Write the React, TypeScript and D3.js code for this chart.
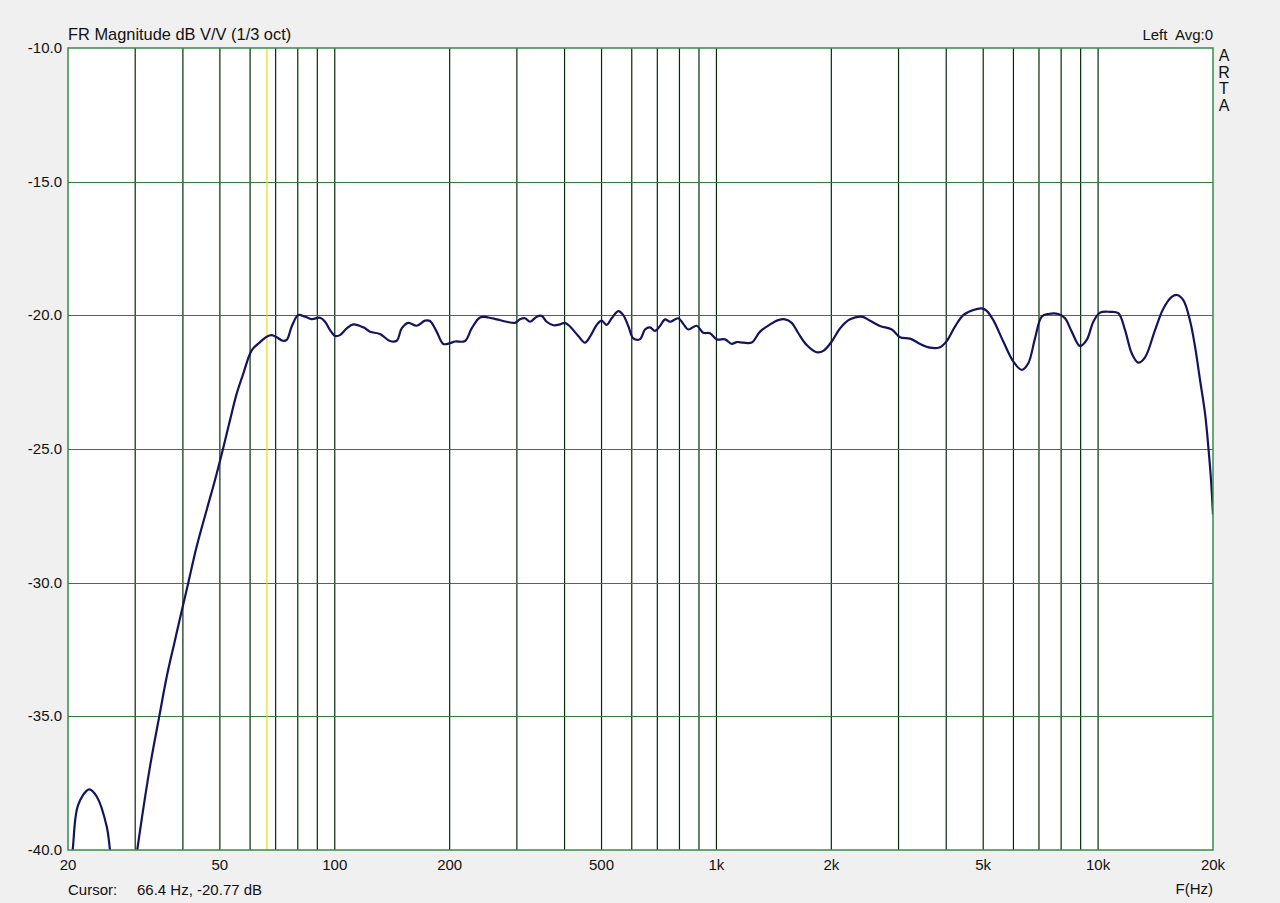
import React, { useEffect, useRef } from 'react';
import * as d3 from 'd3';

// frequency response (Hz, dB)
const freqs = [
  20.0, 20.57, 21.28, 22.74, 23.78, 25.27, 25.77, 27.9,
  30.37, 32.8, 34.69, 36.28, 38.14, 39.95, 41.33, 43.47, 46.17, 48.55, 51.04, 53.15,
  55.34, 57.59, 60.58, 63.7, 66.31, 68.34, 70.44, 73.03, 74.82, 77.11, 80.25, 83.57,
  87.0, 91.49, 94.29, 97.18, 100.2, 103.2, 107.5, 111.8, 118.8, 123.7, 131.4, 139.5,
  145.3, 149.7, 155.8, 163.9, 172.3, 177.6, 184.9, 192.5, 200.4, 206.6, 219.4, 228.4,
  240.2, 252.5, 265.6, 282.1, 296.7, 305.7, 315.1, 324.8, 338.1, 348.4, 359.1, 373.8,
  389.2, 401.1, 413.4, 434.5, 452.5, 466.4, 485.5, 500.4, 515.7, 531.5, 553.2, 570.1,
  587.5, 605.5, 630.6, 649.9, 669.8, 690.3, 711.4, 733.2, 755.6, 794.4, 818.7, 843.8,
  887.7, 923.7, 962.0, 1002, 1053, 1097, 1130, 1176, 1237, 1301, 1382, 1452, 1512,
  1575, 1639, 1724, 1831, 1906, 2005, 2107, 2239, 2403, 2526, 2683, 2880, 3027, 3215,
  3416, 3628, 3854, 4012, 4217, 4433, 4709, 4955, 5107, 5314, 5644, 5996, 6307, 6563,
  6834, 7114, 7404, 7864, 8190, 8528, 8966, 9336, 9716, 10116, 10744, 11296, 11764,
  12248, 12746, 13274, 14098, 14820, 15592, 16100, 16718, 17412, 17946, 18496, 19062,
  19442, 19762, 20000,
];
const magnitudes = [
  -41.6, -40.0, -38.3, -37.73, -38.0, -39.13, -40.0, -44.0,
  -40.0, -36.88, -35.0, -33.52, -32.15, -30.9, -30.0, -28.65, -27.28, -26.16, -24.95, -23.92,
  -22.93, -22.18, -21.31, -21.0, -20.8, -20.74, -20.82, -20.95, -20.92, -20.42, -19.99, -20.05,
  -20.14, -20.09, -20.24, -20.55, -20.77, -20.74, -20.49, -20.34, -20.45, -20.61, -20.7, -20.96,
  -20.95, -20.49, -20.28, -20.39, -20.2, -20.21, -20.61, -21.07, -21.04, -20.98, -20.96, -20.49,
  -20.08, -20.08, -20.15, -20.24, -20.28, -20.15, -20.11, -20.24, -20.05, -20.02, -20.24, -20.37,
  -20.34, -20.28, -20.42, -20.77, -21.02, -20.8, -20.36, -20.2, -20.36, -20.11, -19.84, -19.99,
  -20.4, -20.86, -20.89, -20.53, -20.45, -20.58, -20.4, -20.15, -20.24, -20.11, -20.32, -20.53,
  -20.39, -20.65, -20.67, -20.9, -20.9, -21.07, -21.0, -21.02, -21.02, -20.61, -20.34, -20.18, -20.15,
  -20.28, -20.67, -21.11, -21.38, -21.33, -20.98, -20.49, -20.15, -20.05, -20.2, -20.4, -20.53, -20.82, -20.87,
  -21.07, -21.21, -21.19, -20.96, -20.42, -19.99, -19.8, -19.74, -19.83, -20.18, -20.98, -21.73, -22.04, -21.79,
  -20.86, -20.05, -19.95, -19.95, -20.11, -20.61, -21.15, -20.92, -20.24, -19.9, -19.87, -19.92, -20.55,
  -21.42, -21.77, -21.57, -20.55, -19.75, -19.31, -19.24, -19.43, -20.2, -21.17, -22.42, -23.67,
  -24.91, -26.16, -27.45,
];

const yTicks = [-10, -15, -20, -25, -30, -35, -40];
const xTickValues = [20, 50, 100, 200, 500, 1000, 2000, 5000, 10000, 20000];
const xTickLabels = ['20', '50', '100', '200', '500', '1k', '2k', '5k', '10k', '20k'];
const gridFreqs = [
  30, 40, 50, 60, 70, 80, 90, 100,
  200, 300, 400, 500, 600, 700, 800, 900, 1000,
  2000, 3000, 4000, 5000, 6000, 7000, 8000, 9000, 10000,
];
const cursorFreq = 66.4;
const cursorText = '66.4 Hz, -20.77 dB';

const App: React.FC = () => {
  const svgRef = useRef<SVGSVGElement>(null);

  useEffect(() => {
    if (!svgRef.current) return;
    const svg = d3.select(svgRef.current);
    svg.selectAll('*').remove();

    const width = 1280;
    const height = 903;
    const left = 68, right = 1213, top = 48, bottom = 850;
    const font = 'Arial, "Liberation Sans", sans-serif';

    const x = d3.scaleLog().domain([20, 20000]).range([left, right]);
    const y = d3.scaleLinear().domain([-40, -10]).range([bottom, top]);

    svg.attr('width', width).attr('height', height);

    svg.append('rect')
      .attr('width', width)
      .attr('height', height)
      .attr('fill', '#f0f0f0');

    svg.append('rect')
      .attr('x', left)
      .attr('y', top)
      .attr('width', right - left)
      .attr('height', bottom - top)
      .attr('fill', '#ffffff');

    // vertical grid
    svg.append('g')
      .selectAll('line')
      .data(gridFreqs)
      .enter()
      .append('line')
      .attr('x1', d => x(d))
      .attr('x2', d => x(d))
      .attr('y1', top)
      .attr('y2', bottom)
      .attr('stroke', '#062a0c')
      .attr('stroke-width', 1.2);

    // horizontal grid
    svg.append('g')
      .selectAll('line')
      .data(yTicks.slice(1, -1))
      .enter()
      .append('line')
      .attr('x1', left)
      .attr('x2', right)
      .attr('y1', d => Math.round(y(d)) + 0.5)
      .attr('y2', d => Math.round(y(d)) + 0.5)
      .attr('stroke', '#2e7d3a')
      .attr('stroke-width', 1.2);

    // cursor
    svg.append('line')
      .attr('x1', x(cursorFreq))
      .attr('x2', x(cursorFreq))
      .attr('y1', top)
      .attr('y2', bottom)
      .attr('stroke', '#e8d820')
      .attr('stroke-width', 1.2);

    // curve, clipped to plot
    svg.append('clipPath')
      .attr('id', 'plot-clip')
      .append('rect')
      .attr('x', left)
      .attr('y', top)
      .attr('width', right - left)
      .attr('height', bottom - top);

    const points: [number, number][] = freqs.map((f, i) => [f, magnitudes[i]]);
    const line = d3.line<[number, number]>()
      .x(d => x(d[0]))
      .y(d => y(d[1]))
      .curve(d3.curveCatmullRom.alpha(0.5));

    svg.append('path')
      .attr('d', line(points))
      .attr('clip-path', 'url(#plot-clip)')
      .attr('fill', 'none')
      .attr('stroke', '#14145e')
      .attr('stroke-width', 2.2)
      .attr('stroke-linejoin', 'round');

    // frame
    svg.append('rect')
      .attr('x', left)
      .attr('y', top)
      .attr('width', right - left)
      .attr('height', bottom - top)
      .attr('fill', 'none')
      .attr('stroke', '#3a8a4a')
      .attr('stroke-width', 1.5);

    // y labels
    svg.append('g')
      .selectAll('text')
      .data(yTicks)
      .enter()
      .append('text')
      .attr('x', 62)
      .attr('y', d => y(d) + 1)
      .attr('text-anchor', 'end')
      .attr('dominant-baseline', 'middle')
      .attr('font-family', font)
      .attr('font-size', 15)
      .attr('fill', '#111')
      .text(d => d.toFixed(1));

    // x labels
    svg.append('g')
      .selectAll('text')
      .data(xTickValues)
      .enter()
      .append('text')
      .attr('x', d => x(d))
      .attr('y', 866)
      .attr('text-anchor', 'middle')
      .attr('dominant-baseline', 'middle')
      .attr('font-family', font)
      .attr('font-size', 15)
      .attr('fill', '#111')
      .text((d, i) => xTickLabels[i]);

    const text = (tx: number, ty: number, s: string, anchor = 'start') =>
      svg.append('text')
        .attr('x', tx)
        .attr('y', ty)
        .attr('text-anchor', anchor)
        .attr('dominant-baseline', 'middle')
        .attr('font-family', font)
        .attr('font-size', 15)
        .attr('fill', '#111')
        .text(s);

    text(left, 36, 'FR Magnitude dB V/V (1/3 oct)').attr('font-size', 16.4);
    text(right, 36, 'Left  Avg:0', 'end').style('white-space', 'pre');
    text(left, 891, 'Cursor:');
    text(137, 891, cursorText);
    text(right, 890, 'F(Hz)', 'end');

    ['A', 'R', 'T', 'A'].forEach((c, i) => {
      text(1224, 57 + i * 16.6, c, 'middle').attr('font-size', 16);
    });
  }, []);

  return (
    <div>
      <svg ref={svgRef} style={{ position: 'absolute', left: 0, top: 0, display: 'block' }}></svg>
    </div>
  );
};

export default App;
